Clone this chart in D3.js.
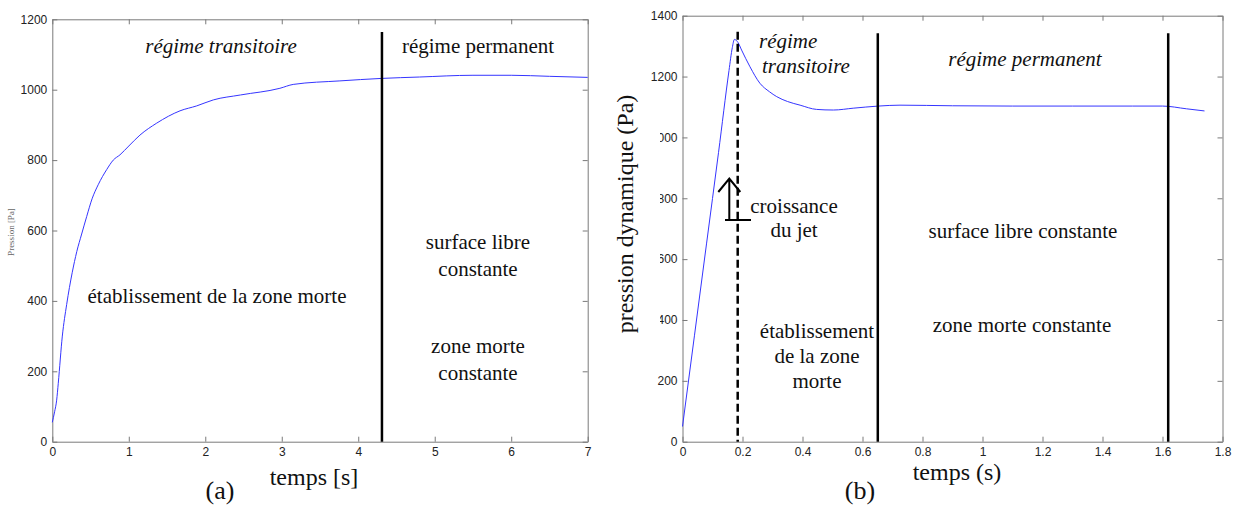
<!DOCTYPE html>
<html>
<head>
<meta charset="utf-8">
<script src="https://cdn.jsdelivr.net/npm/d3@7"></script>
<style>
  body { margin: 0; background: #fff; }
  .serif { font-family: "Liberation Serif", "Times New Roman", serif; fill: #111; }
  .axis text { font-family: "Liberation Sans", Arial, sans-serif; font-size: 12px; fill: #222; }
  .axis path, .axis line { stroke: #7a7a7a; }
</style>
</head>
<body>
<div id="chart"></div>
<script>

// panel (a): pressure during filling
var timeA = [0, 0.03, 0.057, 0.078, 0.131, 0.188, 0.26, 0.32, 0.384, 0.45, 0.52, 0.6, 0.711,
             0.797, 0.885, 1.0, 1.146, 1.365, 1.67, 1.888, 2.105, 2.46, 2.976, 3.15, 3.76,
             4.3, 4.8, 5.5, 6.0, 6.5, 7.0];
var pressureA = [55, 85, 118, 166, 300, 390, 480, 540, 590, 640, 690, 730, 773,
                 800, 815, 840, 871, 905, 940, 954, 971, 985, 1004, 1015, 1025,
                 1032, 1036, 1041, 1041, 1038, 1035];

// panel (b): dynamic pressure of the jet
var timeB = [0, 0.04, 0.08, 0.12, 0.155, 0.166, 0.173, 0.185, 0.197, 0.225, 0.258, 0.29,
             0.314, 0.35, 0.392, 0.447, 0.503, 0.569, 0.653, 0.725, 0.9, 1.1, 1.3, 1.5,
             1.6, 1.68, 1.74];
var pressureB = [50, 350, 650, 950, 1220, 1295, 1322, 1312, 1287, 1232, 1178, 1150,
                 1134, 1118, 1106, 1092, 1090, 1096, 1103, 1106, 1104, 1103, 1103, 1103,
                 1103, 1094, 1087];

// tick values
var xTicksA = [0, 1, 2, 3, 4, 5, 6, 7];
var yTicksA = [0, 200, 400, 600, 800, 1000, 1200];
var xTicksB = [0, 0.2, 0.4, 0.6, 0.8, 1, 1.2, 1.4, 1.6, 1.8];
var yTicksB = [0, 200, 400, 600, 800, 1000, 1200, 1400];

// regime limits
var limitA = [4.31];
var limitsB = [0.651, 1.619];
var jetLimitB = [0.184];

var svg = d3.select("#chart")
  .append("svg")
    .attr("width", 1237)
    .attr("height", 507);

var plain = function (d) { return String(d); };

// draws one framed matlab style panel and returns its scales
function drawPanel (box, xDomain, yDomain, xTicks, yTicks, time, pressure) {

  var x = d3.scaleLinear().domain(xDomain).range([box.left, box.right]);
  var y = d3.scaleLinear().domain(yDomain).range([box.bottom, box.top]);

  svg.append("g")
    .attr("class", "axis")
    .attr("transform", "translate(0," + box.bottom + ")")
    .call(d3.axisBottom(x).tickValues(xTicks).tickFormat(plain)
      .tickSizeInner(-5).tickSizeOuter(0).tickPadding(6));

  svg.append("g")
    .attr("class", "axis")
    .attr("transform", "translate(0," + box.top + ")")
    .call(d3.axisTop(x).tickValues(xTicks).tickSizeInner(-5).tickSizeOuter(0).tickFormat(""));

  svg.append("g")
    .attr("class", "axis")
    .attr("transform", "translate(" + box.left + ",0)")
    .call(d3.axisLeft(y).tickValues(yTicks).tickFormat(plain)
      .tickSizeInner(-5).tickSizeOuter(0).tickPadding(5));

  svg.append("g")
    .attr("class", "axis")
    .attr("transform", "translate(" + box.right + ",0)")
    .call(d3.axisRight(y).tickValues(yTicks).tickSizeInner(-5).tickSizeOuter(0).tickFormat(""));

  var line = d3.line()
    .x(function (d, i) { return x(time[i]); })
    .y(function (d) { return y(d); })
    .curve(d3.curveMonotoneX);

  svg.append("path")
    .datum(pressure)
    .attr("d", line)
    .attr("fill", "none")
    .attr("stroke", "#3535ff")
    .attr("stroke-width", 1);

  return {x: x, y: y};
}

function label (txt, x, y, size, italic) {
  svg.append("text")
    .attr("class", "serif")
    .attr("x", x)
    .attr("y", y)
    .attr("text-anchor", "middle")
    .style("font-size", size + "px")
    .style("font-style", italic ? "italic" : "normal")
    .text(txt);
}

// panel (a)
var a = drawPanel({left: 52.3, right: 587.7, top: 19.3, bottom: 441.7},
  [0, 7], [0, 1200], xTicksA, yTicksA, timeA, pressureA);

svg.selectAll(".limitA")
  .data(limitA)
  .enter().append("line")
    .attr("x1", function (d) { return a.x(d); })
    .attr("x2", function (d) { return a.x(d); })
    .attr("y1", 32)
    .attr("y2", a.y(0))
    .attr("stroke", "#000")
    .attr("stroke-width", 2.5);

label("régime transitoire", 221, 53, 21, true);
label("régime permanent", 478, 53, 21, false);
label("établissement de la zone morte", 217, 303, 21, false);
label("surface libre", 478, 249, 21, false);
label("constante", 478, 276, 21, false);
label("zone morte", 478, 353, 21, false);
label("constante", 478, 380, 21, false);
label("temps [s]", 314, 485, 24, false);
label("(a)", 220, 499, 26, false);

svg.append("text")
  .attr("class", "serif")
  .attr("transform", "translate(14,232) rotate(-90)")
  .attr("text-anchor", "middle")
  .style("font-size", "9px")
  .style("fill", "#666")
  .text("Pression [Pa]");

// panel (b)
var b = drawPanel({left: 682.5, right: 1222.5, top: 15.7, bottom: 441.7},
  [0, 1.8], [0, 1400], xTicksB, yTicksB, timeB, pressureB);

svg.selectAll(".limitB")
  .data(limitsB)
  .enter().append("line")
    .attr("x1", function (d) { return b.x(d); })
    .attr("x2", function (d) { return b.x(d); })
    .attr("y1", 33.3)
    .attr("y2", b.y(0))
    .attr("stroke", "#000")
    .attr("stroke-width", 2.5);

svg.selectAll(".jetB")
  .data(jetLimitB)
  .enter().append("line")
    .attr("x1", function (d) { return b.x(d); })
    .attr("x2", function (d) { return b.x(d); })
    .attr("y1", 31.7)
    .attr("y2", b.y(0))
    .attr("stroke", "#000")
    .attr("stroke-width", 2.5)
    .attr("stroke-dasharray", "8,4");

// growth arrow of the jet
svg.append("path")
  .attr("d", "M729.3,220 V178.5 M718.3,192 L729.3,178.5 L740.3,192 M725,220 H751")
  .attr("fill", "none")
  .attr("stroke", "#000")
  .attr("stroke-width", 2);

// white box of the y label hides part of the tick labels
svg.append("rect")
  .attr("x", 610)
  .attr("y", 88)
  .attr("width", 50)
  .attr("height", 282)
  .attr("fill", "#fff");

svg.append("text")
  .attr("class", "serif")
  .attr("transform", "translate(633,214) rotate(-90)")
  .attr("text-anchor", "middle")
  .style("font-size", "24px")
  .text("pression dynamique (Pa)");

svg.append("text").attr("class", "serif")
  .attr("x", 759).attr("y", 48)
  .style("font-size", "21px").style("font-style", "italic")
  .text("régime");
svg.append("text").attr("class", "serif")
  .attr("x", 762).attr("y", 73)
  .style("font-size", "21px").style("font-style", "italic")
  .text("transitoire");

label("croissance", 794, 213, 21, false);
label("du jet", 794, 237, 21, false);
label("régime permanent", 1025, 66, 21, true);
label("surface libre constante", 1023, 238, 21, false);
label("zone morte constante", 1022, 332, 21, false);
label("établissement", 817, 338, 21, false);
label("de la zone", 817, 363, 21, false);
label("morte", 817, 388, 21, false);
label("temps (s)", 957, 480, 24, false);
label("(b)", 860, 499, 26, false);

</script>
</body>
</html>
